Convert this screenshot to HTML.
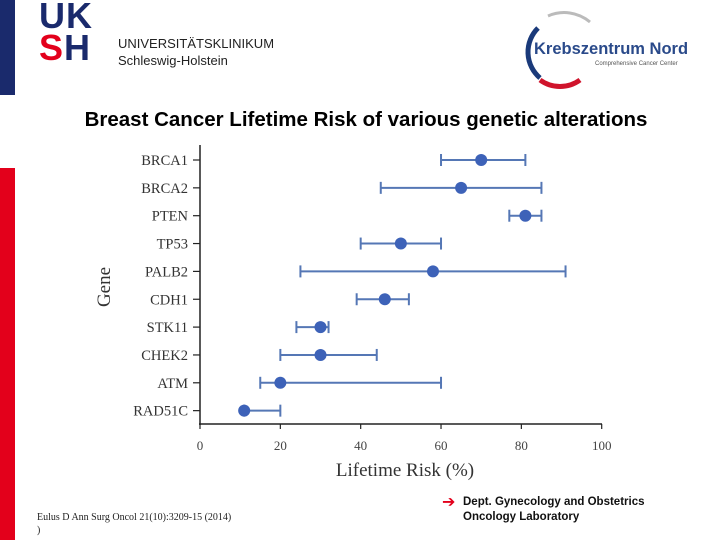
<!DOCTYPE html>
<html><head><meta charset="utf-8"><style>
body{margin:0;width:720px;height:540px;overflow:hidden;background:#fff;position:relative;font-family:"Liberation Sans",sans-serif}
.abs{position:absolute}
</style></head><body>
<div class="abs" style="left:0;top:0;width:15px;height:95px;background:#1a2a6c"></div>
<div class="abs" style="left:0;top:168px;width:15px;height:372px;background:#e3001b"></div>
<div class="abs" style="left:39px;top:0px;font:bold 36px/32px 'Liberation Sans',sans-serif;letter-spacing:1px">
<div style="color:#1a2a6c">UK</div><div><span style="color:#e3001b">S</span><span style="color:#1a2a6c">H</span></div></div>
<div class="abs" style="left:118px;top:35px;font-size:13px;line-height:17px;color:#222">UNIVERSITÄTSKLINIKUM<br>Schleswig-Holstein</div>
<svg class="abs" style="left:510px;top:10px" width="180" height="80">
<path d="M28 18 A34 34 0 0 0 30 68" stroke="#1a3a7a" stroke-width="5" fill="none"/>
<path d="M30 70 A34 34 0 0 0 70 70" stroke="#d0142c" stroke-width="5" fill="none"/>
<path d="M38 6 A40 40 0 0 1 80 12" stroke="#bbb" stroke-width="3" fill="none"/>
<text x="24" y="44" font-family="Liberation Sans" font-weight="bold" font-size="16.5" fill="#2a4a8a">Krebszentrum Nord</text>
<text x="85" y="55" font-family="Liberation Sans" font-size="6" fill="#555">Comprehensive Cancer Center</text>
</svg>
<div class="abs" style="left:0;width:732px;top:108px;text-align:center;font-weight:bold;font-size:20.5px;color:#000">Breast Cancer Lifetime Risk of various genetic alterations</div>
<svg id="chart" class="abs" style="left:0;top:0" width="720" height="540"></svg>
<div class="abs" style="left:37px;top:511px;font:10px/13px 'Liberation Serif',serif;color:#222">Eulus D Ann Surg Oncol 21(10):3209-15 (2014)<br>)</div>
<div class="abs" style="left:442px;top:492px;color:#e3001b;font-size:16px">➔</div>
<div class="abs" style="left:463px;top:495px;font-weight:bold;font-size:11.5px;line-height:15px;color:#111">Dept. Gynecology and Obstetrics<br>Oncology Laboratory</div>
<script>
const genes=["BRCA1","BRCA2","PTEN","TP53","PALB2","CDH1","STK11","CHEK2","ATM","RAD51C"];
const risk=[70,65,81,50,58,46,30,30,20,11];
const lower=[60,45,77,40,25,39,24,20,15,11];
const upper=[81,85,85,60,91,52,32,44,60,20];
const xticks=[0,20,40,60,80,100];
const NS="http://www.w3.org/2000/svg";
const svg=document.getElementById("chart");
const X=v=>200+v*4.017;
const Y=i=>160+i*27.85;
function mk(t,a,p){const e=document.createElementNS(NS,t);for(const k in a)e.setAttribute(k,a[k]);(p||svg).appendChild(e);return e;}
const serif="Liberation Serif";
let ax=mk("line",{x1:200,y1:145,x2:200,y2:425,stroke:"#222","stroke-width":1.5});

ax=mk("line",{x1:199,y1:424,x2:602,y2:424,stroke:"#222","stroke-width":1.5});

xticks.forEach(v=>{
 mk("line",{x1:X(v),y1:424,x2:X(v),y2:429,stroke:"#222","stroke-width":1.2});
 const t=mk("text",{x:X(v),y:450,"text-anchor":"middle","font-family":serif,"font-size":13,fill:"#444"});t.textContent=v;
 
});
genes.forEach((g,i)=>{
 const y=Y(i);
 mk("line",{x1:193,y1:y,x2:200,y2:y,stroke:"#222","stroke-width":1.2});
 const t=mk("text",{x:188,y:y+5,"text-anchor":"end","font-family":serif,"font-size":14.5,fill:"#333"});t.textContent=g;
 
 const gr=mk("g",{stroke:"#5577b5","stroke-width":2});
 
 mk("line",{x1:X(lower[i]),y1:y,x2:X(upper[i]),y2:y},gr);
 mk("line",{x1:X(lower[i]),y1:y-6,x2:X(lower[i]),y2:y+6},gr);
 mk("line",{x1:X(upper[i]),y1:y-6,x2:X(upper[i]),y2:y+6},gr);
 const c=mk("circle",{cx:X(risk[i]),cy:y,r:6,fill:"#3d62b8"});
 
});
let t=mk("text",{x:405,y:476,"text-anchor":"middle","font-family":serif,"font-size":19,fill:"#333"});t.textContent="Lifetime Risk (%)";

t=mk("text",{x:110,y:287,"text-anchor":"middle","font-family":serif,"font-size":19,fill:"#333",transform:"rotate(-90 110 287)"});t.textContent="Gene";

</script>
</body></html>
